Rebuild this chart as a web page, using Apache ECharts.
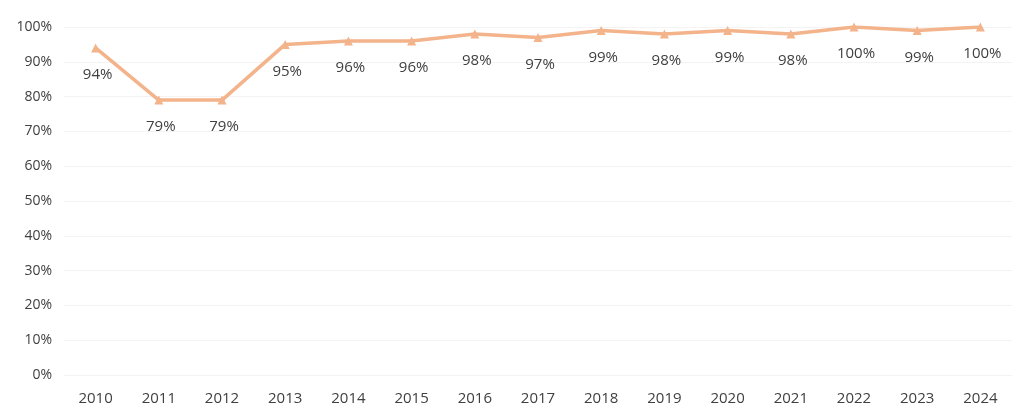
<!DOCTYPE html>
<html><head><meta charset="utf-8">
<script src="https://cdn.jsdelivr.net/npm/echarts@6/dist/echarts.min.js"></script>
<style>html,body{margin:0;padding:0;background:#fff}#c{width:1032px;height:417px}</style>
</head><body><div id="c"></div>
<script>
const years = ['2010','2011','2012','2013','2014','2015','2016','2017','2018','2019','2020','2021','2022','2023','2024'];
const rates = [94,79,79,95,96,96,98,97,99,98,99,98,100,99,100];
const yTicks = {min:0, max:100, interval:10};
const chart = echarts.init(document.getElementById('c'));
chart.setOption({
  animation:false,
  backgroundColor:'#fff',
  grid:{left:64, right:20, top:27, bottom:42},
  xAxis:{type:'category', data:years, boundaryGap:true,
    axisLine:{show:false}, axisTick:{show:false},
    axisLabel:{color:'#404040', fontSize:15, fontFamily:'Open Sans', margin:16}},
  yAxis:{type:'value', min:yTicks.min, max:yTicks.max, interval:yTicks.interval,
    axisLabel:{formatter:'{value}%', color:'#404040', fontSize:14, fontFamily:'Open Sans', margin:12},
    splitLine:{lineStyle:{color:'#f3f3f3', width:1}}, axisLine:{show:false}, axisTick:{show:false}},
  series:[{type:'line', data:rates, symbol:'triangle', symbolSize:9,
    lineStyle:{color:'#F3B38B', width:3.5},
    itemStyle:{color:'#F3B38B'},
    label:{show:true, position:'bottom', distance:15, offset:[2,0], formatter:'{c}%', color:'#404040', fontSize:15, fontFamily:'Open Sans'}}]
});
</script></body></html>
